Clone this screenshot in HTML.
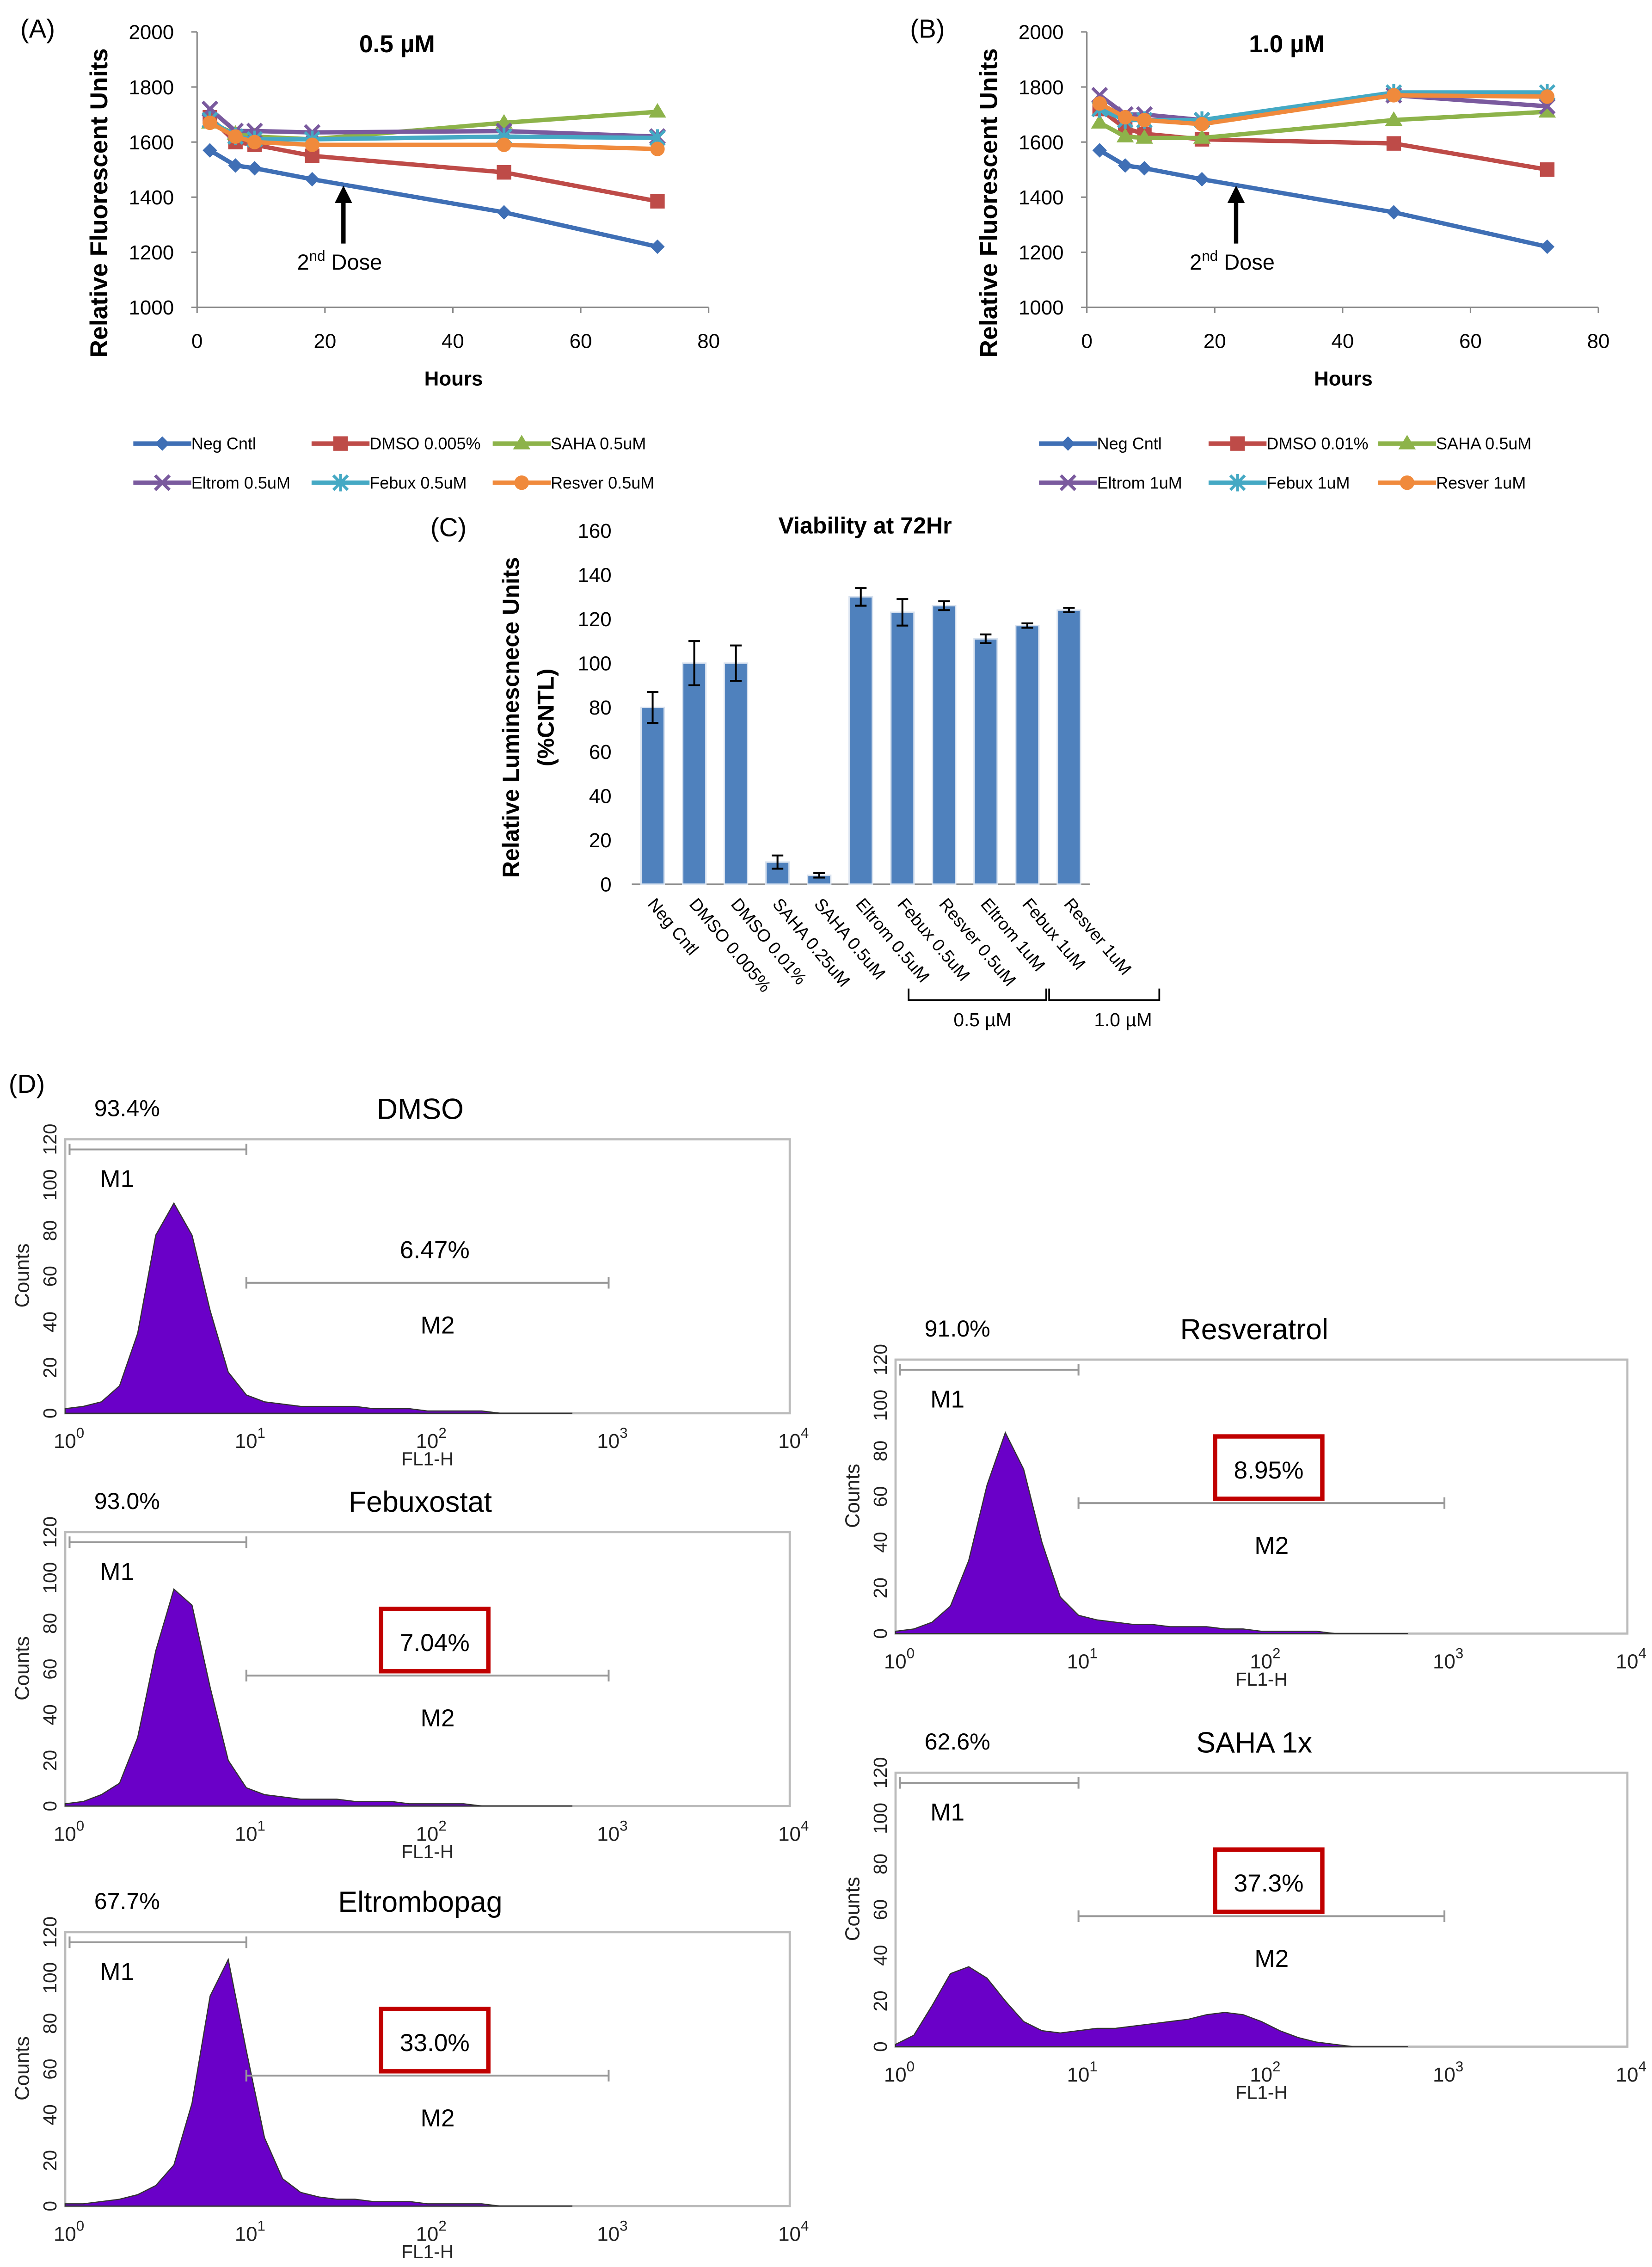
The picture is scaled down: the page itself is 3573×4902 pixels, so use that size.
<!DOCTYPE html>
<html><head><meta charset="utf-8"><style>
html,body{margin:0;padding:0;background:#fff;}
svg{display:block;font-family:"Liberation Sans",Arial,sans-serif;}
</style></head><body>
<svg id="fig" width="3573" height="4902" viewBox="0 0 1140 1564" xmlns="http://www.w3.org/2000/svg"></svg>
<script>
// ---------- DATA ----------
const hours = [2, 6, 9, 18, 48, 72];
const seriesNames = ["Neg Cntl", "DMSO", "SAHA", "Eltrom", "Febux", "Resver"];
const legendA = ["Neg Cntl", "DMSO 0.005%", "SAHA 0.5uM", "Eltrom 0.5uM", "Febux 0.5uM", "Resver 0.5uM"];
const legendB = ["Neg Cntl", "DMSO 0.01%", "SAHA 0.5uM", "Eltrom 1uM", "Febux 1uM", "Resver 1uM"];
const negA = [1570, 1515, 1505, 1465, 1345, 1220];
const dmsoA = [1690, 1600, 1590, 1550, 1490, 1385];
const sahaA = [1670, 1630, 1620, 1610, 1670, 1710];
const eltromA = [1720, 1640, 1640, 1635, 1640, 1620];
const febuxA = [1680, 1620, 1610, 1610, 1620, 1615];
const resverA = [1670, 1620, 1600, 1590, 1590, 1575];
const negB = [1570, 1515, 1505, 1465, 1345, 1220];
const dmsoB = [1720, 1650, 1630, 1610, 1595, 1500];
const sahaB = [1670, 1620, 1615, 1615, 1680, 1710];
const eltromB = [1770, 1700, 1700, 1680, 1770, 1730];
const febuxB = [1720, 1680, 1680, 1680, 1780, 1780];
const resverB = [1740, 1690, 1680, 1665, 1770, 1765];
const yTicksLine = [1000, 1200, 1400, 1600, 1800, 2000];
const xTicksLine = [0, 20, 40, 60, 80];

const barCats = ["Neg Cntl", "DMSO 0.005%", "DMSO 0.01%", "SAHA 0.25uM", "SAHA 0.5uM", "Eltrom 0.5uM", "Febux 0.5uM", "Resver 0.5uM", "Eltrom 1uM", "Febux 1uM", "Resver 1uM"];
const barVals = [80, 100, 100, 10, 4, 130, 123, 126, 111, 117, 124];
const barErr = [7, 10, 8, 3, 1, 4, 6, 2, 2, 1, 1];
const yTicksBar = [0, 20, 40, 60, 80, 100, 120, 140, 160];

// histogram counts at log10(FL1-H) = 0, 0.1, 0.2 ... 2.8
const histDMSO = [2, 3, 5, 12, 35, 78, 92, 78, 45, 18, 8, 5, 4, 3, 3, 3, 3, 2, 2, 2, 1, 1, 1, 1, 0, 0, 0, 0, 0];
const histFebux = [1, 2, 5, 10, 30, 68, 95, 88, 52, 20, 8, 5, 4, 3, 3, 3, 2, 2, 2, 1, 1, 1, 1, 0, 0, 0, 0, 0, 0];
const histEltrom = [1, 1, 2, 3, 5, 9, 18, 45, 92, 108, 68, 30, 12, 6, 4, 3, 3, 2, 2, 2, 1, 1, 1, 1, 0, 0, 0, 0, 0];
const histResver = [1, 2, 5, 12, 32, 65, 88, 72, 40, 16, 8, 6, 5, 4, 4, 3, 3, 3, 2, 2, 1, 1, 1, 1, 0, 0, 0, 0, 0];
const histSAHA = [1, 5, 18, 32, 35, 30, 20, 11, 7, 6, 7, 8, 8, 9, 10, 11, 12, 14, 15, 14, 11, 7, 4, 2, 1, 0, 0, 0, 0];

// ---------- HELPERS ----------
const svg = document.getElementById('fig');
const NS = "http://www.w3.org/2000/svg";
function mk(tag, attrs, parent) {
  const e = document.createElementNS(NS, tag);
  for (const k in attrs) e.setAttribute(k, attrs[k]);
  (parent || svg).appendChild(e);
  return e;
}
function txt(x, y, s, size, parent, extra) {
  const t = mk('text', Object.assign({x: x, y: y, 'font-size': size, fill: '#000'}, extra || {}), parent);
  t.textContent = s;
  return t;
}
const colors = ["#3f6fb5", "#be4b48", "#8db34a", "#7a5a9e", "#45a9c4", "#f08a3c"];
function marker(g, k, x, y, c) {
  if (k === 0) mk('polygon', {points: `${x},${y-5} ${x+5},${y} ${x},${y+5} ${x-5},${y}`, fill: c}, g);
  else if (k === 1) mk('rect', {x: x-5, y: y-5, width: 10, height: 10, fill: c}, g);
  else if (k === 2) mk('polygon', {points: `${x},${y-6} ${x+6},${y+4} ${x-6},${y+4}`, fill: c}, g);
  else if (k === 3) mk('path', {d: `M${x-5} ${y-5}L${x+5} ${y+5}M${x+5} ${y-5}L${x-5} ${y+5}`, stroke: c, 'stroke-width': 2.2}, g);
  else if (k === 4) mk('path', {d: `M${x-5} ${y-5}L${x+5} ${y+5}M${x+5} ${y-5}L${x-5} ${y+5}M${x} ${y-6}L${x} ${y+6}`, stroke: c, 'stroke-width': 2}, g);
  else mk('circle', {cx: x, cy: y, r: 5, fill: c}, g);
}

// ---------- LINE CHARTS ----------
function lineChart(id, x0, title, series, legend, legX, label, arrowX) {
  const g = mk('g', {});
  
  
  const xw = 353, yTop = 22, yBot = 212;
  const sx = v => x0 + v / 80 * xw;
  const sy = v => yBot - (v - 1000) / 1000 * (yBot - yTop);
  txt(x0 - 122, 26, label, 18, g);
  const tt = txt(x0 + 138, 36, title, 17, g, {'font-weight': 'bold', 'text-anchor': 'middle'});
  
  mk('line', {x1: x0, y1: yTop, x2: x0, y2: yBot, stroke: '#888', 'stroke-width': 1}, g);
  mk('line', {x1: x0, y1: yBot, x2: x0 + xw, y2: yBot, stroke: '#888', 'stroke-width': 1}, g);
  yTicksLine.forEach(v => {
    mk('line', {x1: x0 - 4, y1: sy(v), x2: x0, y2: sy(v), stroke: '#888'}, g);
    txt(x0 - 16, sy(v) + 5, String(v), 14, g, {'text-anchor': 'end'});
  });
  xTicksLine.forEach(v => {
    mk('line', {x1: sx(v), y1: yBot, x2: sx(v), y2: yBot + 4, stroke: '#888'}, g);
    txt(sx(v), yBot + 28, String(v), 14, g, {'text-anchor': 'middle'});
  });
  const xl = txt(x0 + 177, 266, 'Hours', 14, g, {'font-weight': 'bold', 'text-anchor': 'middle'});
  
  const yl = txt(0, 0, 'Relative Fluorescent Units', 17, g, {'font-weight': 'bold', 'text-anchor': 'middle', transform: `translate(${x0-62},140) rotate(-90)`});
  
  series.forEach((vals, k) => {
    const sg = mk('g', {}, g);
    
    
    mk('polyline', {points: vals.map((v, i) => sx(hours[i]) + ',' + sy(v)).join(' '), fill: 'none', stroke: colors[k], 'stroke-width': 3}, sg);
    vals.forEach((v, i) => marker(sg, k, sx(hours[i]), sy(v), colors[k]));
  });
  mk('path', {d: `M${arrowX} 168 L${arrowX} 134`, stroke: '#000', 'stroke-width': 3}, g);
  mk('polygon', {points: `${arrowX-6},140 ${arrowX},128 ${arrowX+6},140`, fill: '#000'}, g);
  const ad = mk('text', {x: arrowX - 32, y: 186, 'font-size': 15}, g);
  ad.innerHTML = '2<tspan dy="-6" font-size="10">nd</tspan><tspan dy="6"> Dose</tspan>';
  
  legend.forEach((name, k) => {
    const lx = legX[k % 3], ly = k < 3 ? 306 : 333;
    const lg = mk('g', {}, g);
    
    
    mk('line', {x1: lx, y1: ly, x2: lx + 40, y2: ly, stroke: colors[k], 'stroke-width': 3}, lg);
    marker(lg, k, lx + 20, ly, colors[k]);
    txt(lx + 40, ly + 4, name, 11.5, lg);
  });
}
lineChart('a', 136, '0.5 µM', [negA, dmsoA, sahaA, eltromA, febuxA, resverA], legendA, [92, 215, 340], '(A)', 237);
lineChart('b', 750, '1.0 µM', [negB, dmsoB, sahaB, eltromB, febuxB, resverB], legendB, [717, 834, 951], '(B)', 853);

// ---------- BAR CHART ----------
(function () {
  const g = mk('g', {});
  
  
  const x0 = 436, x1 = 752, yBot = 610, yTop = 366;
  const sy = v => yBot - v / 160 * (yBot - yTop);
  const step = (x1 - x0) / barCats.length;
  const cx = i => x0 + step * (i + 0.5);
  txt(297, 370, '(C)', 18, g);
  const t = txt(597, 368, 'Viability at 72Hr', 16, g, {'font-weight': 'bold', 'text-anchor': 'middle'});
  
  yTicksBar.forEach(v => txt(422, sy(v) + 5, String(v), 14, g, {'text-anchor': 'end'}));
  mk('line', {x1: x0, y1: yBot, x2: x1, y2: yBot, stroke: '#888'}, g);
  const yl = mk('text', {'font-size': 16, 'font-weight': 'bold', 'text-anchor': 'middle', transform: 'translate(358,495) rotate(-90)'}, g);
  yl.textContent = 'Relative Luminescnece Units';
  
  const yl2 = mk('text', {'font-size': 16, 'font-weight': 'bold', 'text-anchor': 'middle', transform: 'translate(382,495) rotate(-90)'}, g);
  yl2.textContent = '(%CNTL)';
  barVals.forEach((v, i) => {
    const b = mk('rect', {x: cx(i) - 8, y: sy(v), width: 16, height: yBot - sy(v), fill: '#4f81bd', stroke: '#d8e2ef', 'stroke-width': 1}, g);
    
    
    const e = barErr[i];
    mk('path', {d: `M${cx(i)} ${sy(v+e)}L${cx(i)} ${sy(v-e)}M${cx(i)-4} ${sy(v+e)}L${cx(i)+4} ${sy(v+e)}M${cx(i)-4} ${sy(v-e)}L${cx(i)+4} ${sy(v-e)}`, stroke: '#000', 'stroke-width': 1.3}, g);
    const lt = txt(0, 0, barCats[i], 12, g, {transform: `translate(${cx(i)-4},${yBot+14}) rotate(50)`});
    
  });
  mk('path', {d: 'M627 682 L627 690 L722 690 L722 682 M724 682 L724 690 L800 690 L800 682', fill: 'none', stroke: '#000', 'stroke-width': 1.2}, g);
  txt(678, 708, '0.5 µM', 13, g, {'text-anchor': 'middle'});
  txt(775, 708, '1.0 µM', 13, g, {'text-anchor': 'middle'});
})();

// ---------- FLOW HISTOGRAMS ----------
txt(6, 754, '(D)', 18);
function flow(name, x0, x1, yb, hist, pct1, pct2, boxed) {
  const g = mk('g', {});
  
  
  const dec = (x1 - x0) / 4;
  const sx = l => x0 + l * dec;
  const sy = c => yb - c / 120 * 189;
  mk('rect', {x: x0, y: yb - 189, width: x1 - x0, height: 189, fill: 'none', stroke: '#bbb', 'stroke-width': 1.5}, g);
  let d = `M${sx(0)} ${yb}`;
  hist.forEach((c, i) => { d += ` L${sx(i * 0.1)} ${sy(c)}`; });
  d += ` L${sx((hist.length - 1) * 0.1)} ${yb} Z`;
  const h = mk('path', {d: d, fill: '#6a00c8', stroke: '#333', 'stroke-width': 0.8}, g);
  
  [0, 20, 40, 60, 80, 100, 120].forEach(v => {
    txt(0, 0, String(v), 13, g, {'text-anchor': 'middle', fill: '#222', transform: `translate(${x0-6},${sy(v)}) rotate(-90)`});
  });
  for (let p = 0; p <= 4; p++) {
    const t = mk('text', {x: sx(p) - 8, y: yb + 24, 'font-size': 14, fill: '#222'}, g);
    t.innerHTML = '10<tspan dy="-7" font-size="10">' + p + '</tspan>';
  }
  txt((x0 + x1) / 2, yb + 36, 'FL1-H', 13, g, {'text-anchor': 'middle', fill: '#222'});
  txt(0, 0, 'Counts', 14, g, {'text-anchor': 'middle', fill: '#222', transform: `translate(${x0-25},${yb-95}) rotate(-90)`});
  mk('path', {d: `M${x0+3} ${yb-182}L${x0+dec} ${yb-182}M${x0+3} ${yb-186}L${x0+3} ${yb-178}M${x0+dec} ${yb-186}L${x0+dec} ${yb-178}`, stroke: '#999', 'stroke-width': 1.3}, g);
  mk('path', {d: `M${x0+dec} ${yb-90}L${x0+3*dec} ${yb-90}M${x0+dec} ${yb-94}L${x0+dec} ${yb-86}M${x0+3*dec} ${yb-94}L${x0+3*dec} ${yb-86}`, stroke: '#999', 'stroke-width': 1.3}, g);
  txt(x0 + 24, yb - 156, 'M1', 17, g);
  txt(x0 + 2 * dec + 7, yb - 55, 'M2', 17, g, {'text-anchor': 'middle'});
  txt(x0 + 20, yb - 205, pct1, 16, g);
  const tt = txt((x0 + x1) / 2 - 5, yb - 203, name, 20, g, {'text-anchor': 'middle'});
  
  const cx = x0 + 2 * dec + 5;
  txt(cx, yb - 107, pct2, 17, g, {'text-anchor': 'middle'});
  if (boxed) {
    const r = mk('rect', {x: cx - 37, y: yb - 136, width: 74, height: 43, fill: 'none', stroke: '#c00000', 'stroke-width': 3}, g);
    
  }
}
flow('DMSO', 45, 545, 975, histDMSO, '93.4%', '6.47%', false);
flow('Febuxostat', 45, 545, 1246, histFebux, '93.0%', '7.04%', true);
flow('Eltrombopag', 45, 545, 1522, histEltrom, '67.7%', '33.0%', true);
flow('Resveratrol', 618, 1123, 1127, histResver, '91.0%', '8.95%', true);
flow('SAHA 1x', 618, 1123, 1412, histSAHA, '62.6%', '37.3%', true);
</script>
</body></html>
